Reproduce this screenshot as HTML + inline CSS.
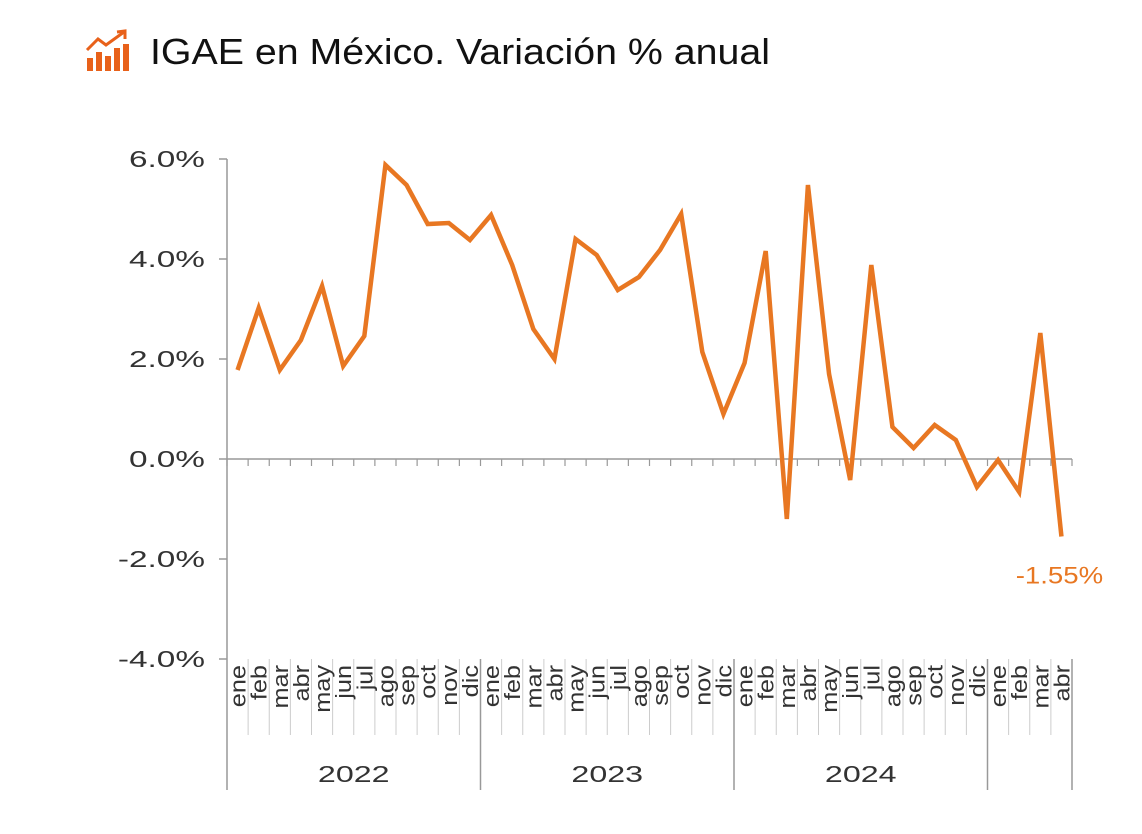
<!DOCTYPE html>
<html><head><meta charset="utf-8"><style>
body{margin:0;background:#fff;width:1142px;height:829px;overflow:hidden;font-family:"Liberation Sans",sans-serif}
</style></head><body>
<svg width="1142" height="829">
<g fill="#E8611A">
<rect x="87" y="58" width="6" height="13"/><rect x="96" y="52" width="6" height="19"/><rect x="105" y="56" width="6" height="15"/><rect x="114" y="48" width="6" height="23"/><rect x="123" y="44" width="6" height="27"/>
<polyline points="87,50 98,39 106,45 124,32" fill="none" stroke="#E8611A" stroke-width="3"/>
<polyline points="117,32 125,31 125,39" fill="none" stroke="#E8611A" stroke-width="3"/>
</g>
<text x="150" y="64" font-size="36" fill="#111" textLength="620" lengthAdjust="spacingAndGlyphs">IGAE en México. Variación % anual</text>
<g id="axes"></g>
<g id="plot"></g>
</svg>
<script>
const months=["ene","feb","mar","abr","may","jun","jul","ago","sep","oct","nov","dic"];
const years=["2022","2023","2024","2025"];
const values=[1.78,3.02,1.78,2.38,3.46,1.86,2.46,5.88,5.48,4.70,4.72,4.38,
4.88,3.88,2.60,2.00,4.40,4.08,3.38,3.64,4.18,4.90,2.14,0.90,
1.92,4.16,-1.20,5.48,1.70,-0.42,3.88,0.64,0.22,0.68,0.38,-0.56,
-0.02,-0.66,2.52,-1.55];
const yTicks=[6,4,2,0,-2,-4];
const lastLabel="-1.55%";
const NS="http://www.w3.org/2000/svg";
const x0=227,x1=1072,n=values.length,bw=(x1-x0)/n;
const y=v=>459-v*50;
const xc=i=>x0+bw*(i+0.5);
const ax=document.getElementById('axes'),pl=document.getElementById('plot');
function mk(tag,attrs,parent,txt){const e=document.createElementNS(NS,tag);for(const k in attrs)e.setAttribute(k,attrs[k]);if(txt!==undefined)e.textContent=txt;parent.appendChild(e);return e;}
function stretch(el,f){const w=el.getComputedTextLength();if(w>0){el.setAttribute('textLength',w*f);el.setAttribute('lengthAdjust','spacingAndGlyphs');}}
const yl=mk('line',{x1:x0,y1:y(6),x2:x0,y2:y(-4),stroke:'#999','stroke-width':1.5},ax);


yTicks.forEach(t=>{
 const tk=mk('line',{x1:x0-8,y1:y(t),x2:x0,y2:y(t),stroke:'#999','stroke-width':1.5},ax);
 
 
 const lb=mk('text',{x:x0-22,y:y(t)+8,'font-size':23,fill:'#333','text-anchor':'end'},ax,t.toFixed(1)+'%');
 
 
 stretch(lb,1.45);
});
const zl=mk('line',{x1:x0,y1:y(0),x2:x1,y2:y(0),stroke:'#999','stroke-width':1.5},ax);


for(let i=0;i<=n;i++){
 const xx=x0+bw*i;
 const t=mk('line',{x1:xx,y1:y(0),x2:xx,y2:y(0)+7,stroke:'#999','stroke-width':1.2},ax);
 
 
 const isYear=(i%12===0)||i===n;
 const s=mk('line',{x1:xx,y1:y(-4),x2:xx,y2:isYear?790:735,stroke:isYear?'#999':'#ccc','stroke-width':isYear?1.5:1},ax);
 
 
}
values.forEach((v,i)=>{
 const tx=xc(i)+8,ty=665;
 const lb=mk('text',{x:0,y:0,'font-size':22,fill:'#333','text-anchor':'end',transform:`translate(${tx},${ty}) rotate(-90)`},ax,months[i%12]);
 
 
 stretch(lb,1.15);
});
years.forEach((yr,k)=>{
 const s=k*12,e=Math.min(n,s+12);
 const lb=mk('text',{x:x0+bw*(s+e)/2,y:782,'font-size':23,fill:'#333','text-anchor':'middle'},ax,(e-s)>=6?yr:'');
 
 
 if(lb.textContent) stretch(lb,1.4);
});
const pts=values.map((v,i)=>xc(i)+','+y(v)).join(' ');
const line=mk('polyline',{points:pts,fill:'none',stroke:'#E87722','stroke-width':4.5,'stroke-linejoin':'miter'},pl);


const ll=mk('text',{x:xc(n-1)-2,y:y(values[n-1])+47,'font-size':24,fill:'#E87722','text-anchor':'middle'},pl,lastLabel);


stretch(ll,1.15);
</script>
</body></html>
